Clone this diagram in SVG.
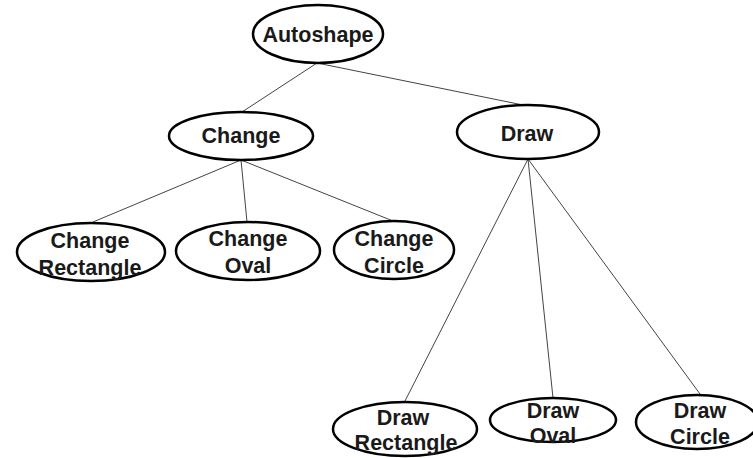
<svg xmlns="http://www.w3.org/2000/svg" width="753" height="458" viewBox="0 0 753 458">
  <style>
    .node ellipse { fill: #ffffff; stroke: #000000; stroke-width: 2.5; }
    .node text { font-family: "Liberation Sans", Arial, sans-serif; font-weight: bold; font-size: 21.5px; fill: #1a1a1a; text-anchor: middle; }
    .edges line { stroke: #444444; stroke-width: 1; }
  </style>
  <rect width="753" height="458" fill="#ffffff"/>

  <g class="edges" id="connectors">
    <line x1="317" y1="63" x2="242" y2="112"/>
    <line x1="317" y1="63" x2="523" y2="105"/>
    <line x1="241" y1="160" x2="93" y2="222"/>
    <line x1="241" y1="160" x2="247" y2="222"/>
    <line x1="241" y1="160" x2="393" y2="221"/>
    <line x1="528" y1="159" x2="405" y2="401"/>
    <line x1="528" y1="159" x2="553" y2="398"/>
    <line x1="528" y1="159" x2="700" y2="394"/>
  </g>

  <g class="node" id="autoshape">
    <ellipse cx="318" cy="34" rx="65" ry="29"/>
    <text x="318" y="42">Autoshape</text>
  </g>

  <g class="node" id="change">
    <ellipse cx="241" cy="136" rx="72" ry="24"/>
    <text x="241" y="143">Change</text>
  </g>

  <g class="node" id="draw">
    <ellipse cx="528" cy="132" rx="71" ry="27"/>
    <text x="527" y="141">Draw</text>
  </g>

  <g class="node" id="change-rectangle">
    <ellipse cx="91" cy="252" rx="74" ry="29"/>
    <text x="90" y="248">Change</text>
    <text x="90" y="275">Rectangle</text>
  </g>

  <g class="node" id="change-oval">
    <ellipse cx="248" cy="251" rx="72" ry="29"/>
    <text x="248" y="246">Change</text>
    <text x="248" y="273">Oval</text>
  </g>

  <g class="node" id="change-circle">
    <ellipse cx="394" cy="250" rx="60" ry="29"/>
    <text x="394" y="246">Change</text>
    <text x="394" y="273">Circle</text>
  </g>

  <g class="node" id="draw-rectangle">
    <ellipse cx="405" cy="429" rx="72" ry="27"/>
    <text x="403" y="425">Draw</text>
    <text x="406" y="450">Rectangle</text>
  </g>

  <g class="node" id="draw-oval">
    <ellipse cx="553" cy="420" rx="63" ry="22"/>
    <text x="553" y="418">Draw</text>
    <text x="553" y="443">Oval</text>
  </g>

  <g class="node" id="draw-circle">
    <ellipse cx="697" cy="422" rx="61" ry="27"/>
    <text x="700" y="418">Draw</text>
    <text x="700" y="444">Circle</text>
  </g>
</svg>
